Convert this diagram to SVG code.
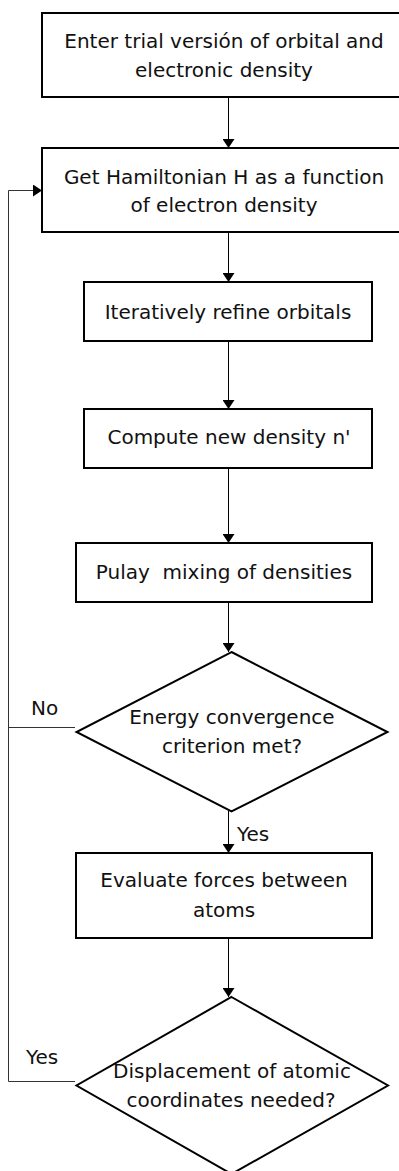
<svg xmlns="http://www.w3.org/2000/svg" width="399" height="1171" viewBox="0 0 399 1171">
  <style>
    .box { fill: #ffffff; stroke: #000000; stroke-width: 2; }
    .link { fill: none; stroke: #000000; stroke-width: 1; }
    .loop { fill: none; stroke: #333333; stroke-width: 1; }
    text { font-family: "DejaVu Sans", sans-serif; font-size: 20px; fill: #111111; }
    .c { text-anchor: middle; }
  </style>
  <defs>
    <marker id="arrow" viewBox="0 0 9 12" refX="9" refY="6" markerWidth="9" markerHeight="12" markerUnits="userSpaceOnUse" orient="auto">
      <path d="M0,0 L9,6 L0,12 Z" fill="#000000"/>
    </marker>
  </defs>
  <rect width="399" height="1171" fill="#ffffff"/>

  <!-- connectors -->
  <g id="connectors">
    <line class="link" x1="228.5" y1="97" x2="228.5" y2="148" marker-end="url(#arrow)"/>
    <line class="link" x1="228.5" y1="232" x2="228.5" y2="282" marker-end="url(#arrow)"/>
    <line class="link" x1="228.5" y1="341" x2="228.5" y2="409" marker-end="url(#arrow)"/>
    <line class="link" x1="228.5" y1="468" x2="228.5" y2="543" marker-end="url(#arrow)"/>
    <line class="link" x1="228.5" y1="602" x2="228.5" y2="652" marker-end="url(#arrow)"/>
    <line class="link" x1="228.5" y1="811" x2="228.5" y2="853" marker-end="url(#arrow)"/>
    <line class="link" x1="228.5" y1="938" x2="228.5" y2="997" marker-end="url(#arrow)"/>
    <!-- loops back to the Hamiltonian step -->
    <polyline class="loop" points="75,727.5 8.5,727.5"/>
    <polyline class="loop" points="75,1081.5 8.5,1081.5 8.5,190.5 42,190.5" marker-end="url(#arrow)"/>
    <text x="31" y="715">No</text>
    <text x="237" y="841">Yes</text>
    <text x="26" y="1064">Yes</text>
  </g>

  <g id="start">
    <rect class="box" x="42" y="13" width="364" height="84"/>
    <text class="c" x="224" y="48">Enter trial versión of orbital and</text>
    <text class="c" x="224" y="77">electronic density</text>
  </g>

  <g id="hamiltonian">
    <rect class="box" x="42" y="148" width="364" height="84"/>
    <text class="c" x="224" y="184">Get Hamiltonian H as a function</text>
    <text class="c" x="224" y="212">of electron density</text>
  </g>

  <g id="refine">
    <rect class="box" x="84" y="282" width="288" height="59"/>
    <text class="c" x="228" y="319">Iteratively refine orbitals</text>
  </g>

  <g id="density">
    <rect class="box" x="84" y="409" width="288" height="59"/>
    <text class="c" x="229" y="444">Compute new density n'</text>
  </g>

  <g id="pulay">
    <rect class="box" x="76" y="543" width="296" height="59"/>
    <text class="c" x="224" y="579" xml:space="preserve">Pulay  mixing of densities</text>
  </g>

  <g id="convergence">
    <polygon class="box" points="231.5,652 387.5,732 231.5,811.5 76.5,732"/>
    <text class="c" x="232" y="724">Energy convergence</text>
    <text class="c" x="232" y="753">criterion met?</text>
  </g>

  <g id="forces">
    <rect class="box" x="76" y="853" width="296" height="85"/>
    <text class="c" x="224" y="887">Evaluate forces between</text>
    <text class="c" x="224" y="917">atoms</text>
  </g>

  <g id="displacement">
    <polygon class="box" points="231.5,997 388,1085.5 231.5,1174 76.5,1085.5"/>
    <text class="c" x="232" y="1078">Displacement of atomic</text>
    <text class="c" x="231" y="1107">coordinates needed?</text>
  </g>
</svg>
